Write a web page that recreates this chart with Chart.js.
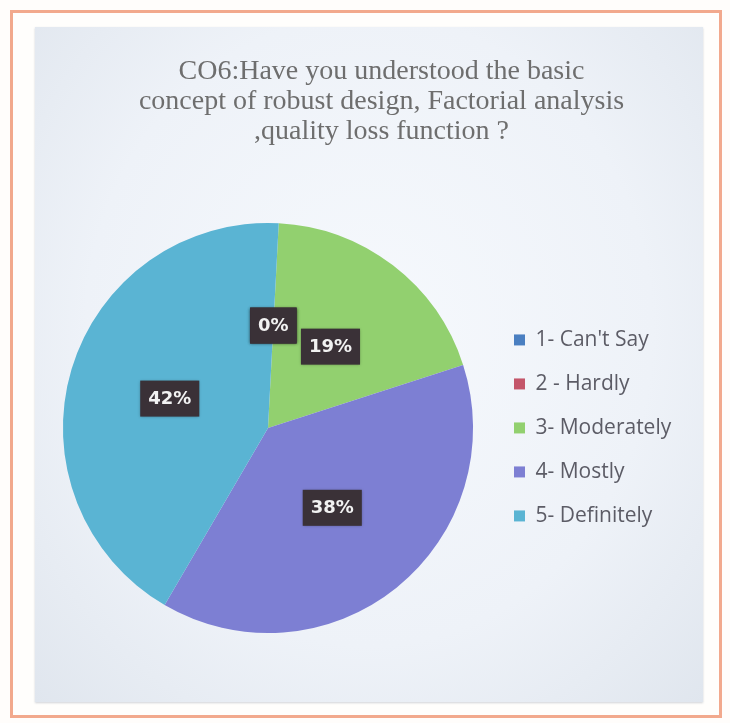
<!DOCTYPE html>
<html>
<head>
<meta charset="utf-8">
<script src="https://cdn.jsdelivr.net/npm/chart.js@4.4.1/dist/chart.umd.min.js"></script>
<style>
  html, body { margin: 0; padding: 0; background: #fffdfb; }
  #frame {
    position: absolute; left: 10px; top: 10px; width: 706px; height: 702px;
    border: 3px solid #f2a98d; background: #fffefc;
  }
  #panel {
    position: absolute; left: 35px; top: 27px; width: 668px; height: 675px;
    background: radial-gradient(ellipse at 50% 45%, #f6f9fd 0%, #eef2f8 60%, #e0e6ee 100%);
    box-shadow: 0 1px 2px rgba(120,130,150,0.35);
  }
  #wrap { position: absolute; left: 0; top: 0; width: 730px; height: 723px; }
</style>
</head>
<body>
<div id="frame"></div>
<div id="panel"></div>
<div id="wrap"><canvas id="pieChart"></canvas></div>
<script>
const titleLines = [
    'CO6:Have you understood the basic',
    'concept of robust design, Factorial analysis',
    ',quality loss function ?'
];
const categories = ["1- Can't Say", '2 - Hardly', '3- Moderately', '4- Mostly', '5- Definitely'];
const shares = [0, 0, 19, 38, 42];   // percent of responses
const sliceColors = ['#4a7fc1', '#c4566a', '#92d06f', '#7d7fd3', '#5ab4d3'];

// draws the dark "NN%" boxes at the middle of each slice
const sliceLabels = {
    id: 'sliceLabels',
    afterDatasetsDraw(chart) {
        const ctx = chart.ctx;
        const meta = chart.getDatasetMeta(0);
        ctx.save();
        ctx.font = 'bold 18px "DejaVu Sans"';
        ctx.textAlign = 'center';
        ctx.textBaseline = 'middle';
        meta.data.forEach((arc, i) => {
            const pos = arc.tooltipPosition();
            const txt = shares[i] + '%';
            const w = ctx.measureText(txt).width + 16;
            const h = 36;
            ctx.fillStyle = '#3a3137';
            ctx.shadowColor = 'rgba(0,0,0,0.35)';
            ctx.shadowBlur = 3;
            ctx.fillRect(pos.x - w / 2, pos.y - h / 2, w, h);
            ctx.shadowBlur = 0;
            ctx.fillStyle = '#f2f2f2';
            ctx.fillText(txt, pos.x, pos.y + 1);
        });
        ctx.restore();
    }
};

// keep the legend column at a fixed width so the pie sits where it should
const legendWidth = {
    id: 'legendWidth',
    beforeUpdate(chart) {
        const lg = chart.legend;
        if (lg && !lg._fixedWidth) {
            const fit = lg.fit;
            lg.fit = function () {
                fit.call(this);
                this.width = 227;
            };
            lg._fixedWidth = true;
        }
    }
};

new Chart(document.getElementById('pieChart'), {
    type: 'pie',
    data: {
        labels: categories,
        datasets: [{
            data: shares,
            backgroundColor: sliceColors,
            borderWidth: 0
        }]
    },
    options: {
        responsive: true,
        maintainAspectRatio: false,
        animation: false,
        rotation: 3,
        layout: { padding: { left: 45, right: 12, top: 0, bottom: 90 } },
        plugins: {
            title: {
                display: true,
                text: titleLines,
                color: '#6e6e6e',
                font: { family: '"Liberation Serif"', size: 28, weight: 'normal', lineHeight: 1.07 },
                padding: { top: 57, bottom: 76 }
            },
            legend: {
                position: 'right',
                fullSize: false,
                labels: {
                    boxWidth: 11,
                    boxHeight: 11,
                    padding: 23,
                    color: '#5c5c66',
                    font: { family: '"Open Sans"', size: 21 }
                }
            },
            tooltip: { enabled: false }
        }
    },
    plugins: [sliceLabels, legendWidth]
});
</script>
</body>
</html>
